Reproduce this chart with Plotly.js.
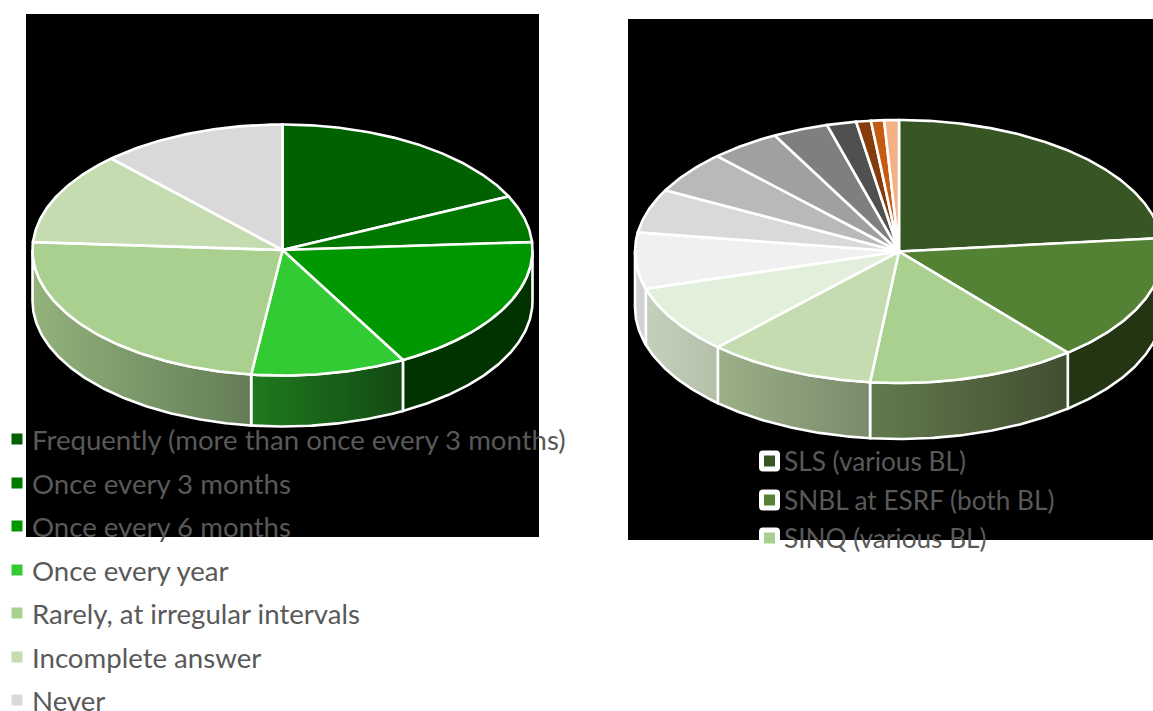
<!DOCTYPE html>
<html>
<head>
<meta charset="utf-8">
<script src="https://cdn.plot.ly/plotly-3.0.1.min.js"></script>
<style>html,body{margin:0;padding:0;background:#fff;overflow:hidden}#chart{width:1153px;height:711px}</style>
</head>
<body>
<div id="chart"></div>
<script>
// ---- data (share of each pie, in percent) ----
const leftLabels = ["Frequently (more than once every 3 months)", "Once every 3 months", "Once every 6 months", "Once every year", "Rarely, at irregular intervals", "Incomplete answer", "Never"];
const leftValues = [18, 6, 18, 10, 24, 12, 12];
const leftColors = ["#006100", "#007800", "#009800", "#33cb33", "#a9d08e", "#c5dcb0", "#d9d9d9"];
const leftWallFrom = ["#003300", "#003300", "#003300", "#1f7a1f", "#93b27c", "#93b27c", "#93b27c"];
const leftWallTo = ["#003300", "#003300", "#003300", "#134a13", "#637c56", "#93b27c", "#93b27c"];

const rightLabels = ["SLS (various BL)", "SNBL at ESRF (both BL)", "SINQ (various BL)"];
const rightValues = [23.4, 15.6, 12.8, 10.3, 8.4, 6.9, 5.4, 5.2, 4.3, 3.4, 1.8, 0.9, 0.8, 0.9];
const rightColors = ["#375623", "#548235", "#a9d08e", "#c5dcb0", "#e2efda", "#f0f0f0", "#d9d9d9", "#b9b9b9", "#a0a0a0", "#7f7f7f", "#505050", "#843c0c", "#c55a11", "#f4b183"];
const rightWallFrom = ["#243513", "#243513", "#627a4e", "#9bb088", "#c4d0ba", "#d2d2d2", "#d2d2d2", "#d2d2d2", "#d2d2d2", "#d2d2d2", "#d2d2d2", "#d2d2d2", "#d2d2d2", "#d2d2d2"];
const rightWallTo = ["#243513", "#243513", "#414f31", "#7a8a6c", "#b4c0aa", "#d2d2d2", "#d2d2d2", "#d2d2d2", "#d2d2d2", "#d2d2d2", "#d2d2d2", "#d2d2d2", "#d2d2d2", "#d2d2d2"];

// ---- layout constants (page pixels; the axes map 1:1 onto the page) ----
const leftPie = {cx: 282.5, cy: 250, rx: 250, ry: 125.5, depth: 51};
const rightPie = {cx: 899, cy: 251.5, rx: 264, ry: 131.5, depth: 56};
const textColor = "#595959";
const fontFamily = "Lato, 'Open Sans', sans-serif";
const edgeWidth = 2.6;

function arc(p, a0, a1, dy) {
  const n = Math.max(2, Math.ceil(Math.abs(a1 - a0) * 1.5));
  const xs = [], ys = [];
  for (let i = 0; i <= n; i++) {
    const t = (a0 + (a1 - a0) * i / n) * Math.PI / 180;
    xs.push(p.cx + p.rx * Math.sin(t));
    ys.push(p.cy - p.ry * Math.cos(t) + dy);
  }
  return [xs, ys];
}

function pieTraces(p, values, colors, wallFrom, wallTo, tag) {
  const total = values.reduce((a, b) => a + b, 0);
  const walls = [], tops = [];
  let start = 0;
  values.forEach((v, i) => {
    const end = start + v / total * 360;
    // top face of the slice
    const [ax, ay] = arc(p, start, end, 0);
    tops.push({
      type: "scatter", mode: "lines", name: tag + " slice " + (i + 1),
      x: [p.cx, ...ax, p.cx], y: [p.cy, ...ay, p.cy],
      fill: "toself", fillcolor: colors[i],
      line: {color: "#ffffff", width: edgeWidth}, hoverinfo: "name", showlegend: false
    });
    // side wall: only the part of the rim that faces the viewer (90° to 270°)
    const w0 = Math.max(start, 90), w1 = Math.min(end, 270);
    if (w1 > w0) {
      const [tx, ty] = arc(p, w0, w1, 0);
      const [bx, by] = arc(p, w1, w0, p.depth);
      const wall = {
        type: "scatter", mode: "lines", name: tag + " wall " + (i + 1),
        x: [...tx, ...bx, tx[0]], y: [...ty, ...by, ty[0]],
        fill: "toself", line: {color: "#ffffff", width: edgeWidth},
        hoverinfo: "skip", showlegend: false
      };
      if (wallFrom[i] === wallTo[i]) {
        wall.fillcolor = wallFrom[i];
      } else {
        wall.fillgradient = {type: "horizontal", colorscale: [[0, wallFrom[i]], [1, wallTo[i]]]};
      }
      walls.push(wall);
    }
    start = end;
  });
  return walls.concat(tops);
}

const traces = [
  ...pieTraces(leftPie, leftValues, leftColors, leftWallFrom, leftWallTo, "left"),
  ...pieTraces(rightPie, rightValues, rightColors, rightWallFrom, rightWallTo, "right")
];

function rrect(x0, y0, x1, y1, r) {
  return `M${x0 + r},${y0} L${x1 - r},${y0} Q${x1},${y0} ${x1},${y0 + r} L${x1},${y1 - r} Q${x1},${y1} ${x1 - r},${y1} L${x0 + r},${y1} Q${x0},${y1} ${x0},${y1 - r} L${x0},${y0 + r} Q${x0},${y0} ${x0 + r},${y0} Z`;
}

const shapes = [
  {type: "rect", layer: "below", xref: "x", yref: "y", x0: 26, x1: 539, y0: 14, y1: 537, fillcolor: "#000", line: {width: 0}},
  {type: "rect", layer: "below", xref: "x", yref: "y", x0: 628, x1: 1153, y0: 19, y1: 540, fillcolor: "#000", line: {width: 0}}
];
const annotations = [];

const leftRowY = [439, 483, 526, 570, 613, 657, 700];
leftLabels.forEach((t, i) => {
  const y = leftRowY[i];
  shapes.push({type: "path", xref: "x", yref: "y", path: rrect(9, y - 8, 26, y + 8, 3), fillcolor: "#fff", line: {width: 0}});
  shapes.push({type: "rect", xref: "x", yref: "y", x0: 11.5, x1: 22.5, y0: y - 5.5, y1: y + 5.5, fillcolor: leftColors[i], line: {width: 0}});
  annotations.push({text: t, x: 30, y: y, xref: "x", yref: "y", xanchor: "left", yanchor: "middle", showarrow: false, font: {family: fontFamily, size: 27.6, color: textColor}});
});

const rightRowY = [461, 500, 538];
rightLabels.forEach((t, i) => {
  const y = rightRowY[i];
  shapes.push({type: "path", xref: "x", yref: "y", path: rrect(759, y - 10.5, 780, y + 10.5, 4), fillcolor: "#fff", line: {width: 0}});
  shapes.push({type: "rect", xref: "x", yref: "y", x0: 764, x1: 775, y0: y - 5.5, y1: y + 5.5, fillcolor: rightColors[i], line: {width: 0}});
  annotations.push({text: t, x: 782, y: y, xref: "x", yref: "y", xanchor: "left", yanchor: "middle", showarrow: false, font: {family: fontFamily, size: 26.2, color: textColor}});
});

const layout = {
  width: 1153, height: 711,
  margin: {l: 0, r: 0, t: 0, b: 0},
  paper_bgcolor: "#fff", plot_bgcolor: "rgba(0,0,0,0)",
  showlegend: false,
  xaxis: {range: [0, 1153], visible: false, fixedrange: true},
  yaxis: {range: [711, 0], visible: false, fixedrange: true},
  shapes, annotations
};
Plotly.newPlot("chart", traces, layout, {displayModeBar: false, staticPlot: true});
</script>
</body>
</html>
